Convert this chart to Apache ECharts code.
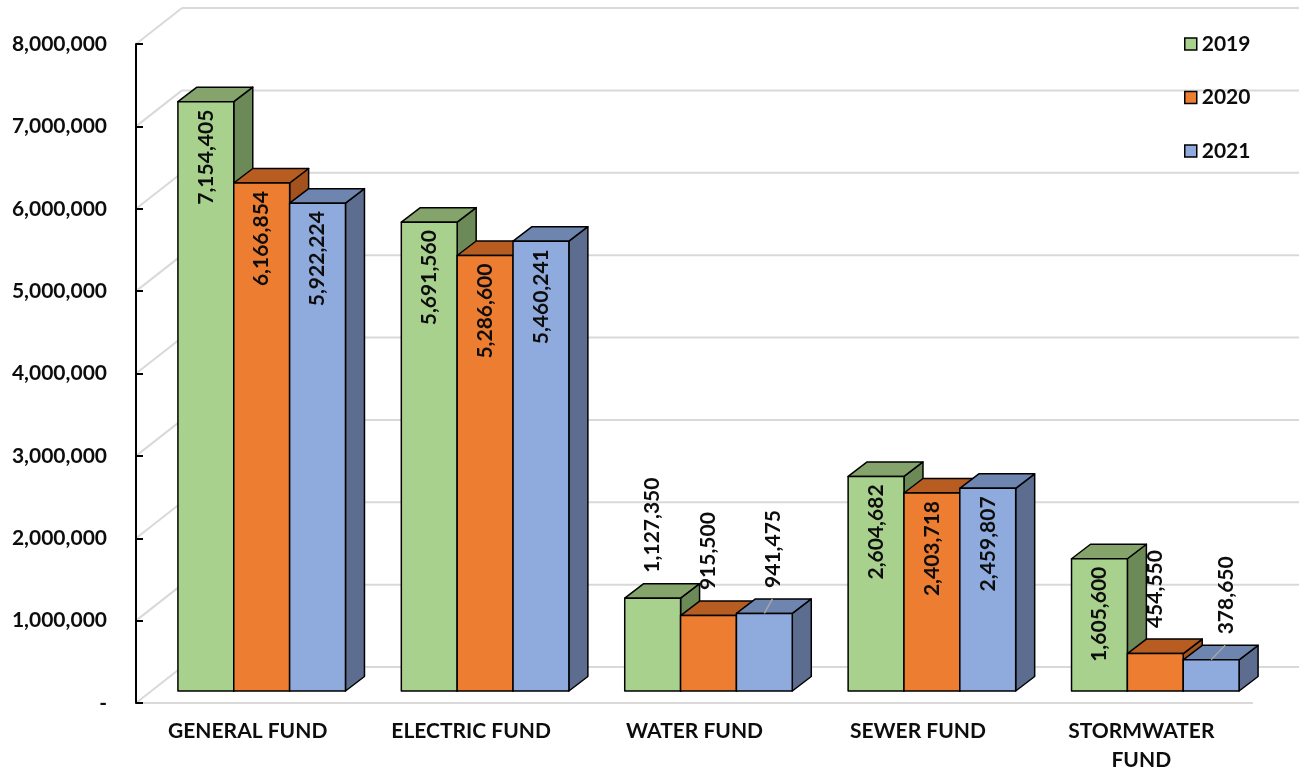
<!DOCTYPE html>
<html>
<head>
<meta charset="utf-8">
<script src="https://cdn.jsdelivr.net/npm/echarts@6/dist/echarts.min.js"></script>
<style>
  html, body { margin: 0; padding: 0; background: #ffffff; }
  #chart { width: 1302px; height: 775px; }
</style>
</head>
<body>
<div id="chart"></div>
<script>
// Fund revenue by year
const categories = ['GENERAL FUND', 'ELECTRIC FUND', 'WATER FUND', 'SEWER FUND', 'STORMWATER FUND'];
const years = ['2019', '2020', '2021'];
const values2019 = [7154405, 5691560, 1127350, 2604682, 1605600];
const values2020 = [6166854, 5286600, 915500, 2403718, 454550];
const values2021 = [5922224, 5460241, 941475, 2459807, 378650];
const yTicks = [0, 1000000, 2000000, 3000000, 4000000, 5000000, 6000000, 7000000, 8000000];

// Oblique 3D projection: full depth of the plot box, and where the bars sit in it
const DEPTH_X = 46, DEPTH_Y = -36;
const FRONT_DX = 14, FRONT_DY = -12;
const BAR_DX = 19, BAR_DY = -14.5;

const FONT = 'Lato, "Open Sans", sans-serif';
const TEXT = '#0d0d0d';
const GRID_GRAY = '#d9d9d9';

const palettes = [
  { front: '#a9d18e', top: '#84a46c', side: '#6c8a58' },
  { front: '#ed7d31', top: '#b85d22', side: '#a4521d' },
  { front: '#8faadc', top: '#6e85b0', side: '#5c6d90' }
];

// Labels on short bars sit above the bar; a few are pushed sideways with a leader line
const labelNudge = { 2: { 2: 9, 4: 15 } };

const fmt = v => v.toLocaleString('en-US');

function wallRender(params, api) {
  const cs = params.coordSys;
  const v = api.value(1);
  const y = api.coord([0, v])[1];
  const gx = cs.x, gw = cs.width;
  const children = [
    { type: 'line', shape: { x1: gx, y1: y, x2: gx + DEPTH_X, y2: y + DEPTH_Y },
      style: { stroke: GRID_GRAY, lineWidth: 2 } },
    { type: 'line', shape: { x1: gx + DEPTH_X, y1: y + DEPTH_Y, x2: gx + gw + DEPTH_X, y2: y + DEPTH_Y },
      style: { stroke: GRID_GRAY, lineWidth: 2 } }
  ];
  if (v === 0) {
    children.push({ type: 'line', shape: { x1: gx, y1: y, x2: gx + gw, y2: y },
      style: { stroke: GRID_GRAY, lineWidth: 2 } });
  }
  return { type: 'group', children };
}

function barRender(si) {
  const pal = palettes[si];
  return function (params, api) {
    const ci = api.value(0);
    const v = api.value(1);
    const base = api.coord([ci, 0]);
    const tp = api.coord([ci, v]);
    const band = api.size([1, 0])[0];
    const groupW = band * 0.75;
    const bw = groupW / 3;
    const x0 = base[0] - groupW / 2 + si * bw + FRONT_DX;
    const yb = base[1] + FRONT_DY;
    const yt = tp[1] + FRONT_DY;
    const stroke = { stroke: '#000', lineWidth: 1.5, lineJoin: 'round' };
    const children = [
      { type: 'polygon', shape: { points: [[x0 + bw, yt], [x0 + bw + BAR_DX, yt + BAR_DY], [x0 + bw + BAR_DX, yb + BAR_DY], [x0 + bw, yb]] },
        style: Object.assign({ fill: pal.side }, stroke) },
      { type: 'polygon', shape: { points: [[x0, yt], [x0 + bw, yt], [x0 + bw + BAR_DX, yt + BAR_DY], [x0 + BAR_DX, yt + BAR_DY]] },
        style: Object.assign({ fill: pal.top }, stroke) },
      { type: 'rect', shape: { x: x0, y: yt, width: bw, height: yb - yt },
        style: Object.assign({ fill: pal.front }, stroke) }
    ];
    const cx = x0 + bw / 2;
    const inside = (yb - yt) > 110;
    if (inside) {
      children.push({ type: 'text', x: cx, y: yt + 8, rotation: Math.PI / 2,
        style: { text: fmt(v), fill: TEXT, font: 'bold 21px ' + FONT, align: 'right', verticalAlign: 'middle' } });
    } else {
      const nudge = (labelNudge[si] && labelNudge[si][ci]) || 0;
      if (nudge) {
        children.push({ type: 'line', shape: { x1: cx, y1: yt, x2: cx + nudge - 1, y2: yt + BAR_DY },
          style: { stroke: '#a6a6a6', lineWidth: 1.5 } });
      }
      children.push({ type: 'text', x: cx + nudge, y: yt + BAR_DY - 11, rotation: Math.PI / 2,
        style: { text: fmt(v), fill: TEXT, font: 'bold 21px ' + FONT, align: 'left', verticalAlign: 'middle' } });
    }
    return { type: 'group', children };
  };
}

const seriesValues = [values2019, values2020, values2021];

const chart = echarts.init(document.getElementById('chart'), null, { renderer: 'canvas' });
chart.setOption({
  animation: false,
  backgroundColor: '#ffffff',
  grid: { left: 136, top: 44, width: 1117, height: 659, containLabel: false },
  legend: {
    orient: 'vertical', left: 1179, top: 27,
    itemWidth: 12, itemHeight: 12, itemGap: 29.5, icon: 'rect',
    textStyle: { fontFamily: FONT, fontWeight: 'bold', fontSize: 21, color: TEXT, lineHeight: 24 },
    data: years.map((y, i) => ({ name: y, itemStyle: { color: palettes[i].front, borderColor: '#000', borderWidth: 1.5 } }))
  },
  xAxis: {
    type: 'category', data: categories,
    axisLine: { show: false }, axisTick: { show: false }, splitLine: { show: false },
    axisLabel: {
      interval: 0, margin: 14, color: TEXT, fontFamily: FONT, fontWeight: 'bold', fontSize: 21, lineHeight: 29,
      formatter: v => v.length > 14 ? v.replace(' ', '\n') : v
    }
  },
  yAxis: {
    type: 'value', min: 0, max: 8000000, interval: 1000000, z: 3,
    axisLine: { show: true, lineStyle: { color: '#000', width: 2 } },
    axisTick: { show: true, inside: true, length: 7, lineStyle: { color: '#000', width: 2 } },
    splitLine: { show: false },
    axisLabel: {
      margin: 29, color: TEXT, fontFamily: FONT, fontWeight: 'bold', fontSize: 21,
      formatter: v => v === 0 ? '-' : fmt(v)
    }
  },
  series: [
    { type: 'custom', name: 'walls', z: 0, silent: true, renderItem: wallRender,
      encode: { x: 0, y: 1 }, data: yTicks.map(v => [0, v]) }
  ].concat(years.map((y, si) => ({
    type: 'custom', name: y, z: 2 + si, renderItem: barRender(si),
    itemStyle: { color: palettes[si].front, borderColor: '#000', borderWidth: 1.5 },
    encode: { x: 0, y: 1 },
    data: seriesValues[si].map((v, i) => [i, v])
  })))
});
</script>
</body>
</html>
